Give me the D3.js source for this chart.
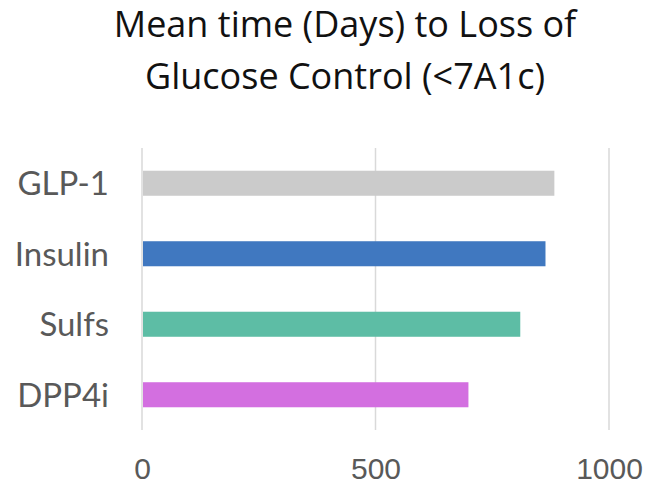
<!DOCTYPE html>
<html>
<head>
<meta charset="utf-8">
<script src="https://cdn.jsdelivr.net/npm/d3@7"></script>
<style>
  body { margin: 0; background: #fff; }
  svg { display: block; }
</style>
</head>
<body>
<div id="chart"></div>
<script>
// Chart data
const categories = ["GLP-1", "Insulin", "Sulfs", "DPP4i"];
const meanDays = [883, 864, 810, 699];
const barColors = ["#cbcbcb", "#4078c0", "#5dbda5", "#d36fe0"];
const tickValues = [0, 500, 1000];
const titleLines = ["Mean time (Days) to Loss of", "Glucose Control (<7A1c)"];

const W = 648, H = 484;
const plot = { left: 142, right: 609, top: 148, bottom: 430 };

const svg = d3.select("#chart")
    .append("svg")
    .attr("width", W)
    .attr("height", H);

// Title
svg.append("g")
    .selectAll("text")
    .data(titleLines)
    .enter()
    .append("text")
    .attr("x", 345)
    .attr("y", (d, i) => 37 + i * 52)
    .attr("text-anchor", "middle")
    .style("font-family", "'Open Sans', sans-serif")
    .style("font-size", "36px")
    .style("fill", "#111")
    .text(d => d);

// Scales
const x = d3.scaleLinear()
    .domain([0, 1000])
    .range([plot.left, plot.right]);

const y = d3.scaleBand()
    .domain(categories)
    .range([plot.top, plot.bottom])
    .paddingInner(0.645)
    .paddingOuter(0.3225);

// Grid lines
svg.selectAll(".grid-line")
    .data(tickValues)
    .enter()
    .append("line")
    .attr("class", "grid-line")
    .attr("x1", d => x(d))
    .attr("x2", d => x(d))
    .attr("y1", plot.top)
    .attr("y2", plot.bottom)
    .style("stroke", "#d9d9d9")
    .style("stroke-width", 1.5);

// Bars
svg.selectAll(".bar")
    .data(categories)
    .enter()
    .append("rect")
    .attr("class", "bar")
    .attr("x", x(0) + 1)
    .attr("y", d => y(d))
    .attr("height", y.bandwidth())
    .attr("width", (d, i) => x(meanDays[i]) - x(0) - 1)
    .style("fill", (d, i) => barColors[i]);

// X axis (labels only)
const xAxis = d3.axisBottom(x)
    .tickValues(tickValues)
    .tickSize(0)
    .tickPadding(0)
    .tickFormat(d3.format("d"));

const gx = svg.append("g")
    .attr("transform", `translate(0,${plot.bottom})`)
    .call(xAxis);
gx.select(".domain").remove();
gx.selectAll("text")
    .attr("y", 49)
    .attr("dy", 0)
    .style("font-family", "'Liberation Sans', Arial, sans-serif")
    .style("font-size", "30px")
    .style("fill", "#595959");

// Y axis (labels only)
const yAxis = d3.axisLeft(y).tickSize(0).tickPadding(0);
const gy = svg.append("g")
    .attr("transform", `translate(109,0)`)
    .call(yAxis);
gy.select(".domain").remove();
gy.selectAll("text")
    .attr("dy", "0.36em")
    .style("font-family", "Lato, sans-serif")
    .style("font-size", "33px")
    .style("fill", "#595959");
</script>
</body>
</html>
